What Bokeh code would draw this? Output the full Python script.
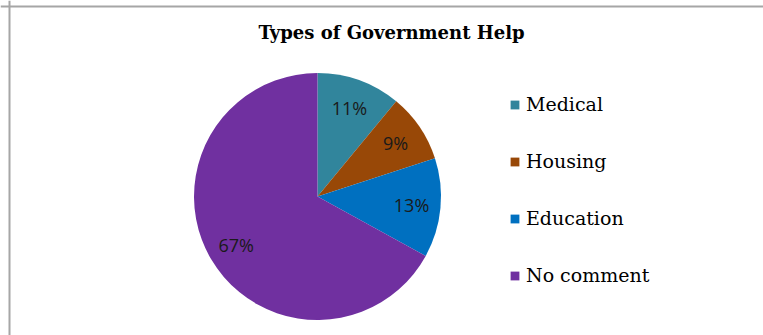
import numpy as np
from bokeh.plotting import figure
from bokeh.models import ColumnDataSource, Range1d, Label, Span, Legend, LegendItem
from bokeh.core.properties import value
from bokeh.embed import file_html
from bokeh.resources import INLINE

# ---- data ----
categories = ["Medical", "Housing", "Education", "No comment"]
percents = [11, 9, 13, 67]
colors = ["#31859C", "#984807", "#0070C0", "#7030A0"]
pct_labels = ["11%", "9%", "13%", "67%"]
title_text = "Types of Government Help"

W, H = 763, 335
cx, cy = 317, H - 196
R = 123.5

frac = np.array(percents, dtype=float) / sum(percents)
cum = np.concatenate([[0.0], np.cumsum(frac)])
start = np.pi / 2 - 2 * np.pi * cum[:-1]
end = np.pi / 2 - 2 * np.pi * cum[1:]
mid = (start + end) / 2
lx = cx + 0.765 * R * np.cos(mid)
ly = cy + 0.765 * R * np.sin(mid)

src = ColumnDataSource(dict(cat=categories, start=start, end=end, color=colors,
                            lx=lx, ly=ly, lab=pct_labels,
                            x=[cx] * 4, y=[cy] * 4))

p = figure(width=W, height=H, output_backend="svg", toolbar_location=None,
           x_range=Range1d(0, W), y_range=Range1d(0, H), min_border=0,
           background_fill_color="white", border_fill_color="white")
p.axis.visible = False
p.grid.visible = False
p.outline_line_color = None

wr = p.wedge(x="x", y="y", radius=R, start_angle="start", end_angle="end",
             direction="clock", fill_color="color", line_color=None, source=src)

p.text(x="lx", y="ly", text="lab", source=src, text_align="center",
       text_baseline="middle", text_font=value("Open Sans"),
       text_font_size="18px", text_color="#1a1a1a")

# border lines (top and left edges of the chart box)
p.add_layout(Span(location=H - 6, dimension="width", line_color="#A6A6A6", line_width=2))
p.add_layout(Span(location=9, dimension="height", line_color="#A6A6A6", line_width=2))

# title
p.add_layout(Label(x=391, y=H - 32, x_units="data", y_units="data", text=title_text,
                   text_align="center", text_baseline="middle",
                   text_font="DejaVu Serif", text_font_style="bold",
                   text_font_size="18px", text_color="#000000"))

items = [LegendItem(label=c, renderers=[wr], index=i) for i, c in enumerate(categories)]
leg = Legend(items=items, location=(509, 49), orientation="vertical",
             glyph_width=11, glyph_height=11, label_height=20, spacing=35,
             padding=0, margin=0, label_standoff=6,
             label_text_font="DejaVu Serif", label_text_font_size="19px",
             label_text_color="#000000", border_line_color=None,
             background_fill_alpha=0)
p.add_layout(leg, "center")

open("out.html", "w").write(file_html(p, INLINE))
